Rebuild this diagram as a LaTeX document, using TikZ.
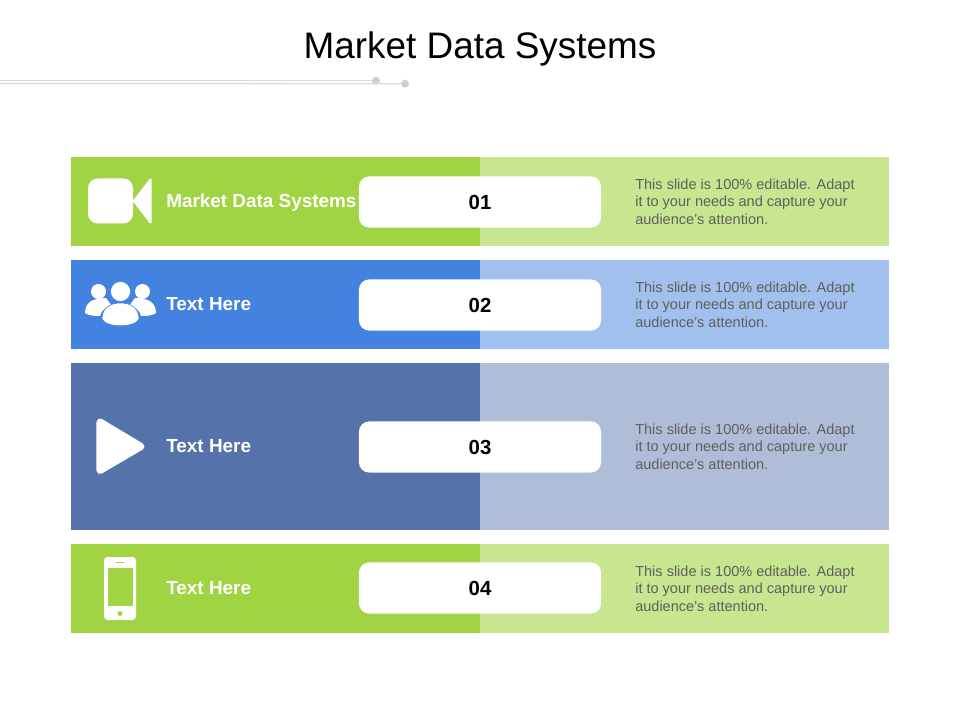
\documentclass[tikz,border=0pt]{standalone}
\usepackage{fontspec}
\setmainfont{Liberation Sans}
\definecolor{grn}{HTML}{A0D443}
\definecolor{grnl}{HTML}{C7E68F}
\definecolor{blu}{HTML}{4482DF}
\definecolor{blul}{HTML}{A2C0EE}
\definecolor{ind}{HTML}{5572AB}
\definecolor{indl}{HTML}{AFBDD9}
\definecolor{txtgray}{HTML}{5F5F5F}
\definecolor{linegray}{HTML}{DADADA}
\definecolor{dotgray}{HTML}{CFCFCF}
\begin{document}
\begin{tikzpicture}[x=0.025cm,y=-0.025cm,
  bar node/.style={inner sep=0,outer sep=0,minimum width=10.225cm,minimum height=2.225cm},
  tall node/.style={bar node,minimum height=4.175cm},
  pill node/.style={rectangle,rounded corners=0.25cm,fill=white,inner sep=0,minimum width=6.05cm,minimum height=1.275cm,font=\fontsize{14.5}{17}\selectfont\bfseries},
  head node/.style={anchor=base west,inner sep=0,text=white,font=\fontsize{13.45}{16}\selectfont\bfseries},
  desc node/.style={anchor=west,inner sep=0,align=left,text=txtgray,font=\fontsize{10.33}{12.45}\selectfont},
  dot node/.style={circle,fill=dotgray,inner sep=0,minimum size=0.2cm},
  icon/.style={fill=white,draw=white,line join=round}]

  \useasboundingbox (0,0) rectangle (960,720);

  \node[inner sep=0,font=\fontsize{26.25}{30}\selectfont] (title) at (480,49) {Market Data Systems};

  \coordinate (a0) at (0,80.7);
  \coordinate (b0) at (0,83.5);
  \node[dot node] (a1) at (376,80.7) {};
  \node[dot node] (b1) at (405,83.7) {};
  \draw[linegray,line width=0.9pt] (a0) -- (a1);
  \draw[linegray,line width=0.9pt] (b0) -- (b1);

  \node[bar node,fill=grn] (left1) at (275.5,201.5) {};
  \node[bar node,fill=grnl] (right1) at (684.5,201.5) {};
  \node[bar node,fill=blu] (left2) at (275.5,304.5) {};
  \node[bar node,fill=blul] (right2) at (684.5,304.5) {};
  \node[tall node,fill=ind] (left3) at (275.5,446.5) {};
  \node[tall node,fill=indl] (right3) at (684.5,446.5) {};
  \node[bar node,fill=grn] (left4) at (275.5,588.5) {};
  \node[bar node,fill=grnl] (right4) at (684.5,588.5) {};

  \node[pill node] (num1) at (480,202) {01};
  \node[pill node] (num2) at (480,305) {02};
  \node[pill node] (num3) at (480,447) {03};
  \node[pill node] (num4) at (480,588) {04};

  \node[head node] (head1) at (166,207.5) {Market Data Systems};
  \node[head node] (head2) at (166,310.5) {Text Here};
  \node[head node] (head3) at (166,452.5) {Text Here};
  \node[head node] (head4) at (166,594.5) {Text Here};

  \node[desc node] (desc1) at (635,201.5) {This slide is 100\% editable. Adapt\\it to your needs and capture your\\audience's attention.};
  \node[desc node] (desc2) at (635,304.5) {This slide is 100\% editable. Adapt\\it to your needs and capture your\\audience's attention.};
  \node[desc node] (desc3) at (635,446.5) {This slide is 100\% editable. Adapt\\it to your needs and capture your\\audience's attention.};
  \node[desc node] (desc4) at (635,588.5) {This slide is 100\% editable. Adapt\\it to your needs and capture your\\audience's attention.};

  % camera
  \fill[white,rounded corners=0.24cm] (88,178.5) rectangle (133,223.5);
  \filldraw[icon,line width=1.5pt] (134,201) -- (150.5,179.5) -- (150.5,222.5) -- cycle;

  % people
  \fill[white] (98.5,291.5) circle (7.5);
  \fill[white] (142.5,291.5) circle (7.5);
  \fill[white] (85,313) .. controls (85,303) and (92,298) .. (106,298) -- (112,306) .. controls (104,308) and (101,311) .. (100,316) .. controls (95,316) and (89,316) .. (85,313) -- cycle;
  \fill[white] (156,313) .. controls (156,303) and (149,298) .. (135,298) -- (129,306) .. controls (137,308) and (140,311) .. (141,316) .. controls (146,316) and (152,316) .. (156,313) -- cycle;
  \filldraw[fill=white,draw=blu] (120.5,291.5) circle (10);
  \filldraw[fill=white,draw=blu] (102,319) .. controls (102,308) and (110,303) .. (120.5,303) .. controls (131,303) and (139,308) .. (139,319) .. controls (135,328) and (106,328) .. (102,319) -- cycle;

  % play
  \filldraw[icon,line width=5pt] (100,422) -- (141,446.5) -- (100,470.5) -- cycle;

  % phone
  \fill[white,rounded corners=0.09cm] (104,557) rectangle (136,620);
  \fill[grn] (107.7,568) rectangle (132.7,606);
  \fill[grn] (120,613.5) circle (2.5);
  \draw[grn] (116,562.5) -- (124,562.5);
\end{tikzpicture}
\end{document}
